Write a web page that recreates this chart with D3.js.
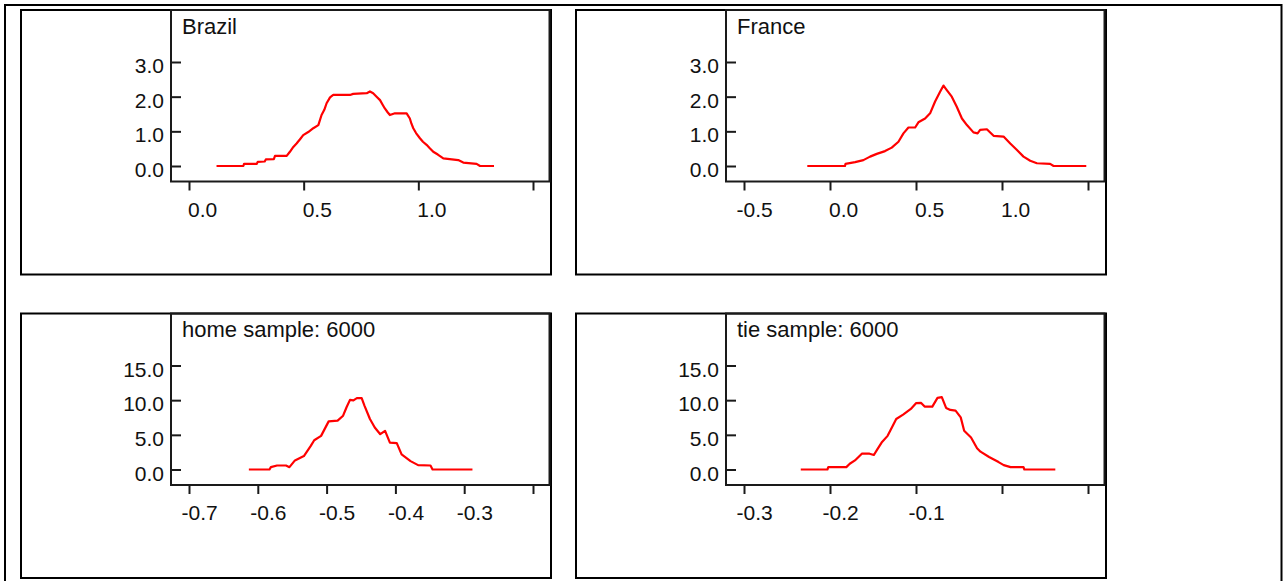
<!DOCTYPE html>
<html>
<head>
<meta charset="utf-8">
<script src="https://cdn.jsdelivr.net/npm/d3@7"></script>
<style>
  html, body { margin: 0; padding: 0; background: #fff; }
  svg { display: block; font-family: "Liberation Sans", Arial, Helvetica, sans-serif; }
</style>
</head>
<body>
<svg id="chart" width="1285" height="581"></svg>
<script>
// Panel titles
const titles = ["Brazil", "France", "home sample: 6000", "tie sample: 6000"];

// Density curves (x, density)
const brazilX = [0.12, 0.237, 0.24, 0.295, 0.30, 0.33, 0.335, 0.37, 0.375, 0.426, 0.44, 0.455, 0.469, 0.485, 0.498, 0.52, 0.542, 0.564, 0.578, 0.59, 0.60, 0.615, 0.629, 0.702, 0.716, 0.775, 0.789, 0.803, 0.818, 0.833, 0.845, 0.854, 0.866, 0.876, 0.898, 0.949, 0.963, 0.97, 0.978, 0.99, 1.007, 1.02, 1.036, 1.05, 1.065, 1.085, 1.109, 1.174, 1.196, 1.254, 1.269, 1.33];
const brazilY = [0, 0, 0.06, 0.06, 0.12, 0.13, 0.19, 0.2, 0.29, 0.29, 0.41, 0.55, 0.65, 0.78, 0.89, 0.98, 1.09, 1.18, 1.47, 1.62, 1.81, 1.98, 2.05, 2.05, 2.08, 2.10, 2.15, 2.10, 2.0, 1.90, 1.76, 1.66, 1.55, 1.47, 1.52, 1.52, 1.37, 1.22, 1.09, 0.95, 0.80, 0.70, 0.61, 0.51, 0.41, 0.33, 0.22, 0.17, 0.10, 0.06, 0, 0];

const franceX = [-0.132, 0.087, 0.09, 0.146, 0.194, 0.233, 0.272, 0.32, 0.359, 0.398, 0.427, 0.456, 0.495, 0.514, 0.553, 0.582, 0.611, 0.640, 0.66, 0.679, 0.708, 0.737, 0.767, 0.796, 0.834, 0.858, 0.873, 0.912, 0.951, 1.009, 1.048, 1.087, 1.125, 1.164, 1.203, 1.28, 1.30, 1.49];
const franceY = [0, 0, 0.06, 0.11, 0.17, 0.27, 0.35, 0.43, 0.53, 0.70, 0.94, 1.11, 1.11, 1.26, 1.37, 1.52, 1.86, 2.14, 2.32, 2.19, 2.0, 1.71, 1.37, 1.18, 0.97, 0.94, 1.04, 1.06, 0.87, 0.85, 0.65, 0.46, 0.27, 0.15, 0.08, 0.06, 0, 0];

const homeX = [-0.613, -0.583, -0.581, -0.572, -0.559, -0.554, -0.546, -0.533, -0.523, -0.518, -0.508, -0.497, -0.484, -0.476, -0.471, -0.466, -0.461, -0.456, -0.449, -0.445, -0.437, -0.430, -0.422, -0.415, -0.408, -0.398, -0.391, -0.378, -0.367, -0.349, -0.346, -0.288];
const homeY = [0, 0, 0.34, 0.58, 0.58, 0.34, 1.31, 1.94, 3.40, 4.22, 4.85, 6.94, 7.04, 7.76, 8.98, 10.04, 9.97, 10.29, 10.29, 9.22, 7.28, 6.06, 5.09, 5.58, 3.88, 3.8, 2.18, 1.21, 0.63, 0.58, 0, 0];

const tieX = [-0.234, -0.203, -0.202, -0.181, -0.177, -0.171, -0.163, -0.154, -0.149, -0.145, -0.140, -0.133, -0.127, -0.123, -0.115, -0.106, -0.100, -0.094, -0.090, -0.081, -0.075, -0.070, -0.065, -0.060, -0.054, -0.048, -0.044, -0.036, -0.029, -0.025, -0.015, -0.004, 0.002, 0.010, 0.025, 0.026, 0.062];
const tieY = [0, 0, 0.34, 0.34, 0.83, 1.31, 2.28, 2.28, 2.09, 2.91, 3.88, 4.85, 6.31, 7.28, 7.91, 8.73, 9.56, 9.6, 9.07, 9.07, 10.33, 10.43, 8.88, 8.59, 8.5, 7.52, 5.58, 4.61, 3.06, 2.57, 1.80, 1.07, 0.63, 0.34, 0.34, 0, 0];

// Axis ticks and their labels
const brazilXTicks = [0, 0.5, 1.0, 1.5];
const brazilXLabels = ["0.0", "0.5", "1.0", ""];
const franceXTicks = [-0.5, 0, 0.5, 1.0, 1.5];
const franceXLabels = ["-0.5", "0.0", "0.5", "1.0", ""];
const homeXTicks = [-0.7, -0.6, -0.5, -0.4, -0.3, -0.2];
const homeXLabels = ["-0.7", "-0.6", "-0.5", "-0.4", "-0.3", ""];
const tieXTicks = [-0.3, -0.2, -0.1, 0, 0.1];
const tieXLabels = ["-0.3", "-0.2", "-0.1", "", ""];

const countryYTicks = [0, 1, 2, 3];
const countryYLabels = ["0.0", "1.0", "2.0", "3.0"];
const sampleYTicks = [0, 5, 10, 15];
const sampleYLabels = ["0.0", "5.0", "10.0", "15.0"];

const panels = [
  { title: titles[0], xs: brazilX, ys: brazilY, xt: brazilXTicks, xl: brazilXLabels, yt: countryYTicks, yl: countryYLabels, col: 0, row: 0 },
  { title: titles[1], xs: franceX, ys: franceY, xt: franceXTicks, xl: franceXLabels, yt: countryYTicks, yl: countryYLabels, col: 1, row: 0 },
  { title: titles[2], xs: homeX, ys: homeY, xt: homeXTicks, xl: homeXLabels, yt: sampleYTicks, yl: sampleYLabels, col: 0, row: 1 },
  { title: titles[3], xs: tieX, ys: tieY, xt: tieXTicks, xl: tieXLabels, yt: sampleYTicks, yl: sampleYLabels, col: 1, row: 1 }
];

const svg = d3.select("#chart");

// Outer table border
svg.append("rect")
  .attr("x", 5).attr("y", 5)
  .attr("width", 1276.5).attr("height", 620)
  .attr("fill", "none").attr("stroke", "#000").attr("stroke-width", 2);

const boxLeft = [21, 576];
const boxTop = [10, 313.5];
const boxW = 530, boxH = 264.5;
const frameOffsetX = 150;   // frame left relative to box left
const frameW = 378.5, frameH = 171.5;
const tickFont = 21, titleFont = 22;

panels.forEach(p => {
  const bx = boxLeft[p.col], by = boxTop[p.row];
  const g = svg.append("g");

  // Cell box
  g.append("rect")
    .attr("x", bx).attr("y", by).attr("width", boxW).attr("height", boxH)
    .attr("fill", "none").attr("stroke", "#000").attr("stroke-width", 2);

  const fl = bx + frameOffsetX, ft = by, fb = by + frameH, fr = fl + frameW;

  const x = d3.scaleLinear()
    .domain([p.xt[0], p.xt[p.xt.length - 1]])
    .range([fl + 18, fl + 362]);
  const y = d3.scaleLinear()
    .domain([0, p.yt[p.yt.length - 1]])
    .range([by + 156, by + 52]);

  // Plot frame
  g.append("rect")
    .attr("x", fl).attr("y", ft).attr("width", fr - fl).attr("height", fb - ft)
    .attr("fill", "none").attr("stroke", "#1a1a1a").attr("stroke-width", 2);

  // Y axis: ticks point into the plot
  const yAxis = d3.axisLeft(y)
    .tickValues(p.yt)
    .tickFormat((d, i) => p.yl[i])
    .tickSize(-10)
    .tickPadding(7);
  const yg = g.append("g").attr("transform", `translate(${fl},0)`).call(yAxis);
  yg.select(".domain").remove();
  yg.selectAll(".tick line").attr("stroke", "#1a1a1a").attr("stroke-width", 2);
  yg.selectAll(".tick text")
    .attr("font-size", tickFont).attr("font-family", null).attr("fill", "#111")
    .attr("dy", "0.5em");

  // X axis: ticks hang below the frame, labels start at the tick
  const xAxis = d3.axisBottom(x)
    .tickValues(p.xt)
    .tickFormat((d, i) => p.xl[i])
    .tickSize(9);
  const xg = g.append("g").attr("transform", `translate(0,${fb})`).call(xAxis);
  xg.select(".domain").remove();
  xg.selectAll(".tick line").attr("stroke", "#1a1a1a").attr("stroke-width", 2);
  xg.selectAll(".tick text")
    .attr("font-size", tickFont).attr("font-family", null).attr("fill", "#111")
    .attr("text-anchor", "start")
    .attr("y", 35).attr("dy", null)
    .attr("x", (d, i) => p.xl[i].startsWith("-") ? -8 : -1.5);

  // Title
  g.append("text")
    .attr("x", fl + 11).attr("y", ft + 23.5)
    .attr("font-size", titleFont).attr("fill", "#111")
    .text(p.title);

  // Curve
  const pts = p.xs.map((v, i) => [v, p.ys[i]]);
  g.append("path")
    .datum(pts)
    .attr("fill", "none")
    .attr("stroke", "#ff0000")
    .attr("stroke-width", 2.2)
    .attr("stroke-linejoin", "round")
    .attr("d", d3.line().x(d => x(d[0])).y(d => y(d[1])));
});
</script>
</body>
</html>
